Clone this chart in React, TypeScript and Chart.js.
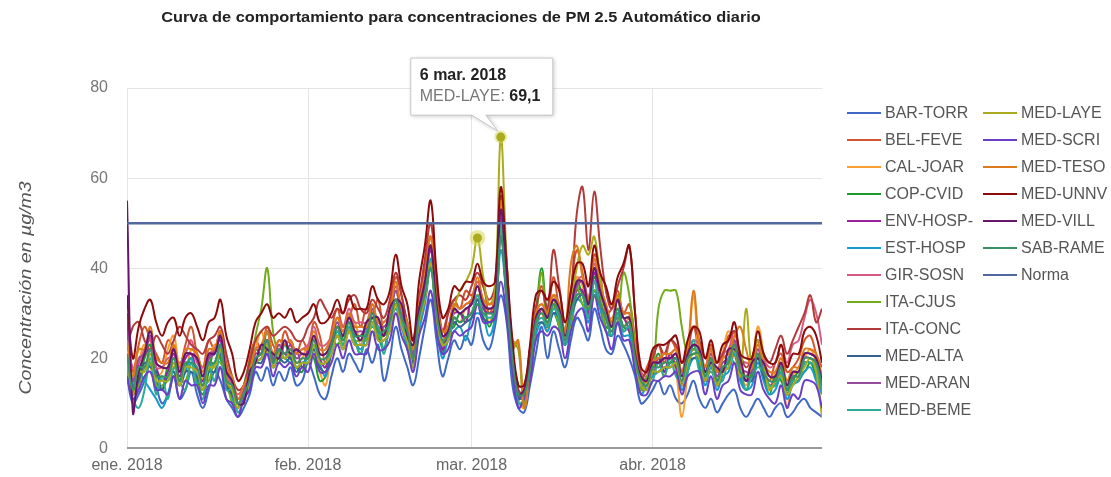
import React, { useEffect, useRef } from "react";
import { Chart, registerables } from "chart.js";
Chart.register(...registerables);

const TITLE = "Curva de comportamiento para concentraciones de PM 2.5 Automático diario";
const Y_TITLE = "Concentración en µg/m3";
const MONTH_TICK_DAYS = [0, 31, 59, 90];
const MONTH_TICK_LABELS = ["ene. 2018", "feb. 2018", "mar. 2018", "abr. 2018"];
const Y_TICKS = [0, 20, 40, 60, 80];
const NORMA = 50;
const TOOLTIP_DAY = 64;
const TOOLTIP_DATE = "6 mar. 2018";
const TOOLTIP_SERIES = "MED-LAYE";
const HALO_DAY = 60;

const STATIONS = [
  "BAR-TORR", "BEL-FEVE", "CAL-JOAR", "COP-CVID", "ENV-HOSP-", "EST-HOSP",
  "GIR-SOSN", "ITA-CJUS", "ITA-CONC", "MED-ALTA", "MED-ARAN", "MED-BEME",
  "MED-LAYE", "MED-SCRI", "MED-TESO", "MED-UNNV", "MED-VILL", "SAB-RAME",
];
const COLORS = [
  "#3f69c4", "#d2552f", "#f9a030", "#1f9a30", "#9a239d", "#1a9cc8",
  "#d85a82", "#72ab1c", "#b33a3a", "#36608e", "#964a9c", "#2eaa98",
  "#abab1e", "#6a3fc6", "#dc7a1c", "#8b0b0b", "#66176a", "#3b9066",
];
const NORMA_COLOR = "#51699e";

const BAR_TORR = [
  16,10,12,15,19,14,10,12,16,11, 13,17,12,9,13,17,15,11,9,7,
  9,12,17,15,18,14,17,15,18,14, 15,19,16,12,11,16,20,17,21,19,
  17,22,19,23,15,20,27,22,18,14, 20,27,33,24,16,20,24,22,25,23,
  29,24,22,27,34,28,14,9,8,14, 21,27,20,26,22,18,24,29,27,24,
  31,27,22,21,25,23,20,16,10,11, 13,15,12,14,11,10,12,15,11,9,
  11,8,10,12,13,9,7,9,11,9, 7,9,10,7,8,10,11,9,8,7,
];
const BEL_FEVE = [
  28,17,23,27,24,21,19,24,22,18, 23,27,21,18,24,22,26,19,14,11,
  13,20,24,22,27,23,21,26,23,21, 24,22,28,25,19,26,31,27,29,32,
  27,31,30,33,26,31,38,34,27,21, 33,40,47,34,23,30,33,31,35,34,
  37,36,30,34,56,41,20,13,12,22, 31,36,29,38,31,26,35,44,39,33,
  43,39,30,31,35,30,32,24,15,18, 21,23,19,24,22,17,23,27,21,18,
  23,17,20,25,24,19,16,20,24,18, 15,19,21,17,18,20,24,25,21,18,
];
const CAL_JOAR = [
  21,14,19,23,18,16,17,22,25,18, 17,22,21,15,19,23,21,16,12,9,
  12,17,22,26,21,19,23,20,22,19, 20,23,21,17,14,22,27,24,26,28,
  23,28,27,29,22,28,35,29,24,20, 30,36,42,30,21,27,29,28,31,30,
  34,33,28,33,51,37,22,11,9,18, 28,30,26,34,28,24,30,38,36,31,
  39,34,28,29,30,27,29,20,12,15, 18,20,16,21,17,7,18,34,20,16,
  20,14,21,26,21,17,14,18,27,21, 13,17,18,9,16,18,20,22,19,12,
];
const COP_CVID = [
  19,12,16,20,23,15,13,18,17,14, 18,20,15,12,17,22,20,14,11,9,
  14,19,22,21,26,20,19,23,20,18, 17,21,20,15,16,24,23,25,27,24,
  21,26,29,25,22,29,33,28,23,19, 29,35,41,30,21,26,27,30,29,30,
  33,32,27,32,49,34,19,11,13,22, 30,40,30,32,27,23,29,37,34,30,
  38,33,27,27,31,27,26,19,13,16, 18,21,17,19,20,14,17,23,18,15,
  19,14,17,20,21,16,13,17,20,16, 12,16,15,12,15,17,17,19,16,13,
];
const ENV_HOSP = [
  30,13,19,21,22,18,15,17,21,16, 20,21,17,15,20,22,24,16,12,10,
  11,17,20,21,24,19,22,21,20,22, 18,22,24,20,18,24,27,26,28,25,
  25,27,28,26,25,30,32,30,26,20, 29,37,44,33,22,26,30,30,28,33,
  33,31,30,31,51,37,18,12,11,19, 26,31,28,31,30,24,30,35,35,30,
  39,33,29,28,29,29,26,20,13,16, 16,20,17,21,18,15,20,22,21,16,
  20,15,18,19,23,17,15,16,21,17, 14,15,18,13,16,16,20,20,19,14,
];
const EST_HOSP = [
  21,14,17,15,13,11,9,12,16,14, 17,20,16,14,18,19,23,15,11,10,
  11,14,19,20,23,18,21,20,19,18, 19,20,23,19,16,22,25,23,26,24,
  22,25,27,26,22,27,31,27,22,18, 26,32,40,28,20,24,26,27,24,29,
  30,29,25,29,44,33,17,10,10,17, 25,28,26,30,27,23,27,33,32,28,
  35,31,26,25,28,25,25,19,12,14, 16,17,18,18,19,13,17,20,19,14,
  18,13,16,17,21,15,13,14,19,15, 12,13,16,11,14,15,17,18,15,12,
];
const GIR_SOSN = [
  24,18,19,22,24,18,18,20,20,19, 21,24,19,18,21,22,26,17,14,12,
  14,17,22,23,26,21,24,23,24,21, 22,23,27,23,23,25,29,27,31,28,
  28,28,32,28,28,30,36,31,28,22, 32,37,45,32,26,27,32,31,32,33,
  37,33,32,33,53,38,22,14,14,20, 30,32,30,34,32,26,32,37,38,33,
  41,36,32,28,34,30,30,22,17,16, 20,20,21,21,22,17,22,24,23,18,
  22,17,21,22,26,20,19,19,24,20, 18,19,23,19,23,24,29,33,30,23,
];
const ITA_CJUS = [
  17,12,14,18,19,14,14,15,16,15, 15,19,14,14,15,19,19,16,10,9,
  13,17,25,31,40,26,21,20,21,18, 19,19,23,19,19,21,26,23,27,24,
  24,24,29,25,25,27,33,28,25,19, 29,34,42,29,23,24,29,28,29,30,
  34,29,28,29,49,33,24,22,10,18, 28,39,27,33,27,25,27,36,32,31,
  35,34,26,26,28,39,34,23,13,16, 17,31,35,35,35,27,21,22,21,16,
  20,15,18,19,23,17,16,16,21,17, 14,14,17,12,15,15,19,19,18,13,
];
const ITA_CONC = [
  22,27,28,24,22,25,23,21,24,27, 25,23,22,21,24,25,27,21,16,13,
  14,19,24,26,27,25,26,27,26,24, 24,27,29,33,31,29,31,30,33,34,
  31,30,33,31,29,33,39,34,28,24, 33,42,50,37,26,30,33,34,33,36,
  39,36,33,36,56,41,22,13,12,22, 31,35,31,44,36,28,34,52,58,44,
  57,45,35,31,36,40,45,30,16,17, 20,23,21,24,23,19,22,27,24,20,
  22,19,21,24,26,21,18,20,24,21, 19,22,25,21,24,27,30,34,28,31,
];
const MED_ALTA = [
  19,13,15,19,18,17,13,16,17,14, 17,17,16,13,17,17,21,14,12,10,
  12,14,19,19,22,18,20,19,20,17, 19,19,22,18,17,21,25,22,26,23,
  23,23,28,24,24,26,32,27,24,19, 28,33,41,29,23,24,28,27,28,29,
  33,29,28,29,47,33,19,11,12,17, 27,28,27,30,29,23,29,33,34,29,
  37,32,29,25,30,26,27,19,14,13, 17,17,18,18,19,14,19,20,20,15,
  19,14,17,18,22,16,15,15,20,16, 14,14,17,12,15,15,19,19,18,13,
];
const MED_ARAN = [
  26,15,20,21,25,19,18,18,22,17, 21,21,20,16,20,21,25,17,15,11,
  13,16,21,21,24,20,23,21,23,20, 21,21,25,21,21,24,28,25,29,26,
  26,26,31,27,27,29,35,30,27,21, 31,36,45,32,25,26,31,30,31,32,
  36,32,31,32,53,37,21,12,13,19, 29,31,29,33,31,25,31,36,37,32,
  40,35,31,27,33,29,29,21,16,15, 19,19,20,20,21,16,21,23,22,17,
  21,16,19,20,24,18,17,17,22,18, 16,16,19,14,17,17,21,21,20,15,
];
const MED_BEME = [
  18,11,9,13,20,12,16,11,18,15, 13,19,14,11,18,15,22,13,13,8,
  11,14,19,20,23,18,21,20,21,18, 19,19,23,19,19,22,26,23,27,24,
  21,26,27,27,21,28,31,29,22,20, 28,34,42,29,23,24,29,28,29,30,
  34,30,29,30,50,34,19,10,11,17, 27,29,27,31,29,23,29,34,34,29,
  37,32,29,25,30,26,27,19,14,13, 15,19,16,20,16,15,17,24,17,16,
  17,15,15,20,19,17,13,16,18,17, 14,14,17,12,15,15,19,19,18,13,
];
const MED_LAYE = [
  20,12,17,17,21,15,15,15,19,14, 18,18,17,13,18,18,22,15,13,9,
  12,14,19,20,23,18,21,20,21,18, 19,19,23,19,19,21,25,22,26,23,
  23,23,28,24,24,26,32,27,24,18, 28,33,41,29,23,24,31,35,37,40,
  46.7,38,32,35,69.1,42,24,23,9,18, 28,31,28,32,31,25,32,40,45,43,
  47,38,31,27,33,29,29,20,14,13, 17,17,18,18,19,14,19,21,20,15,
  19,14,17,18,22,16,31,18,24,19, 13,15,16,12,14,16,18,20,17,7,
];
const MED_SCRI = [
  16,11,13,16,17,13,13,12,16,11, 15,14,14,10,14,14,18,11,10,7,
  11,13,18,18,21,16,19,18,19,16, 18,17,21,17,17,19,23,20,24,21,
  21,21,26,22,22,24,30,25,22,17, 25,29,35,26,21,22,26,25,26,27,
  32,28,28,29,37,29,17,9,11,15, 24,26,25,27,26,20,26,30,31,26,
  34,29,26,22,28,24,24,17,12,12, 15,15,16,16,17,12,16,17,17,12,
  16,11,14,15,19,13,12,12,17,13, 11,10,14,9,12,11,15,15,14,9,
];
const MED_TESO = [
  24,16,22,22,27,20,19,19,23,18, 22,22,21,17,22,22,26,18,16,11,
  14,17,22,23,26,21,24,23,24,21, 22,22,26,22,22,25,29,26,30,27,
  27,27,32,28,28,30,37,31,28,22, 32,38,47,33,26,27,32,31,32,33,
  38,33,32,33,55,38,22,24,9,19, 30,32,30,34,32,26,41,45,38,33,
  42,36,32,28,34,30,30,22,16,15, 19,20,21,21,22,17,22,35,23,18,
  22,17,20,21,25,27,22,18,23,19, 17,17,20,15,18,18,22,22,21,16,
];
const MED_UNNV = [
  34,20,27,31,33,28,25,28,29,25, 29,30,27,24,28,29,33,25,21,15,
  17,22,28,30,32,29,30,29,31,28, 29,30,32,28,28,30,33,30,34,31,
  31,31,36,33,32,35,43,36,32,24, 37,45,55,39,29,31,36,35,37,37,
  41,37,36,37,58,41,24,14,14,23, 34,35,33,37,35,28,35,41,41,36,
  45,39,36,32,38,41,45,30,18,17, 22,23,23,24,25,19,24,27,26,20,
  24,19,23,24,28,21,20,20,26,21, 19,19,23,18,21,21,26,27,25,19,
];
const MED_VILL = [
  55,8,17,21,26,19,18,18,22,17, 21,21,20,16,21,21,25,17,15,10,
  10,17,19,23,22,21,20,24,21,22, 21,21,25,21,21,23,27,25,29,26,
  24,28,29,29,25,31,33,32,25,23, 31,37,45,32,25,26,31,30,31,32,
  36,32,31,32,53,37,21,12,13,19, 29,31,29,33,31,25,31,37,37,32,
  40,35,31,27,33,29,29,21,16,15, 19,19,20,20,21,16,21,23,22,17,
  19,18,17,22,22,20,15,19,20,19, 16,16,19,14,17,17,21,21,20,15,
];
const SAB_RAME = [
  21,13,18,18,22,16,16,16,20,15, 19,19,18,14,19,19,23,15,14,10,
  12,15,20,21,24,19,22,21,22,19, 20,20,24,20,20,23,27,24,28,25,
  25,25,30,26,26,28,33,29,26,20, 29,34,40,30,24,25,29,28,29,30,
  32,30,30,30,47,34,20,12,12,18, 28,30,28,32,30,24,30,34,34,31,
  34,32,29,26,31,27,28,20,15,14, 18,18,19,19,20,15,20,21,21,16,
  20,15,18,19,23,17,16,16,21,17, 15,15,18,13,16,16,20,20,19,14,
];

const SERIES = [
  BAR_TORR, BEL_FEVE, CAL_JOAR, COP_CVID, ENV_HOSP, EST_HOSP,
  GIR_SOSN, ITA_CJUS, ITA_CONC, MED_ALTA, MED_ARAN, MED_BEME,
  MED_LAYE, MED_SCRI, MED_TESO, MED_UNNV, MED_VILL, SAB_RAME,
];

const FONT = "'Liberation Sans', Arial, sans-serif";

const overlayPlugin = {
  id: "overlay",
  afterDatasetsDraw(chart: any) {
    const ctx = chart.ctx;
    const xs = chart.scales.x;
    const ys = chart.scales.y;
    const li = STATIONS.indexOf(TOOLTIP_SERIES);
    const col = COLORS[li];
    const hx = xs.getPixelForValue(HALO_DAY);
    const hy = ys.getPixelForValue(MED_LAYE[HALO_DAY]);
    ctx.save();
    ctx.beginPath();
    ctx.arc(hx, hy, 8, 0, Math.PI * 2);
    ctx.fillStyle = "rgba(215,215,90,0.55)";
    ctx.fill();
    ctx.beginPath();
    ctx.arc(hx, hy, 4.5, 0, Math.PI * 2);
    ctx.fillStyle = col;
    ctx.fill();
    const px = xs.getPixelForValue(TOOLTIP_DAY);
    const py = ys.getPixelForValue(MED_LAYE[TOOLTIP_DAY]);
    ctx.beginPath();
    ctx.arc(px, py, 6.5, 0, Math.PI * 2);
    ctx.fillStyle = "rgba(215,215,90,0.5)";
    ctx.fill();
    ctx.beginPath();
    ctx.arc(px, py, 4.5, 0, Math.PI * 2);
    ctx.fillStyle = col;
    ctx.fill();
    ctx.restore();
  },
  afterDraw(chart: any) {
    const ctx = chart.ctx;
    const xs = chart.scales.x;
    const ys = chart.scales.y;
    ctx.save();
    ctx.font = `bold 15px ${FONT}`;
    ctx.fillStyle = "#222";
    ctx.textAlign = "center";
    ctx.textBaseline = "middle";
    ctx.save();
    ctx.translate(461, 18);
    ctx.scale(1.09, 1);
    ctx.fillText(TITLE, 0, 0);
    ctx.restore();
    ctx.save();
    ctx.translate(27, 288);
    ctx.rotate(-Math.PI / 2);
    ctx.scale(1.22, 1);
    ctx.font = `italic 16px ${FONT}`;
    ctx.fillStyle = "#555";
    ctx.fillText(Y_TITLE, 0, 0);
    ctx.restore();
    ctx.font = `16px ${FONT}`;
    ctx.textAlign = "left";
    const names = [...STATIONS, "Norma"];
    const cols = [...COLORS, NORMA_COLOR];
    names.forEach((n, i) => {
      const c = i < 12 ? 0 : 1;
      const r = i < 12 ? i : i - 12;
      const lx = c === 0 ? 847 : 983;
      const y = 113 + r * 27;
      ctx.strokeStyle = cols[i];
      ctx.lineWidth = 2;
      ctx.beginPath();
      ctx.moveTo(lx, y);
      ctx.lineTo(lx + 34, y);
      ctx.stroke();
      ctx.fillStyle = "#555";
      ctx.fillText(n, lx + 38, y + 1);
    });
    const px = xs.getPixelForValue(TOOLTIP_DAY);
    const py = ys.getPixelForValue(MED_LAYE[TOOLTIP_DAY]);
    const L = px - 90, R = px + 52, T = py - 79, B = py - 22;
    ctx.save();
    ctx.shadowColor = "rgba(0,0,0,0.25)";
    ctx.shadowBlur = 4;
    ctx.shadowOffsetX = 1;
    ctx.shadowOffsetY = 1;
    ctx.beginPath();
    ctx.moveTo(L, T);
    ctx.lineTo(R, T);
    ctx.lineTo(R, B);
    ctx.lineTo(px - 15, B);
    ctx.lineTo(px - 3, py - 6);
    ctx.lineTo(px - 29, B);
    ctx.lineTo(L, B);
    ctx.closePath();
    ctx.fillStyle = "#fff";
    ctx.fill();
    ctx.restore();
    ctx.strokeStyle = "#c8c8c8";
    ctx.lineWidth = 1;
    ctx.stroke();
    ctx.textBaseline = "middle";
    ctx.font = `bold 16px ${FONT}`;
    ctx.fillStyle = "#222";
    ctx.fillText(TOOLTIP_DATE, L + 9, T + 17);
    ctx.font = `16px ${FONT}`;
    ctx.fillStyle = "#777";
    const lab = TOOLTIP_SERIES + ": ";
    ctx.fillText(lab, L + 9, T + 38);
    const w = ctx.measureText(lab).width;
    ctx.font = `bold 16px ${FONT}`;
    ctx.fillStyle = "#222";
    ctx.fillText(String(MED_LAYE[TOOLTIP_DAY]).replace(".", ","), L + 9 + w, T + 38);
    ctx.restore();
  },
};

export default function App() {
  const ref = useRef<HTMLCanvasElement | null>(null);
  useEffect(() => {
    if (!ref.current) return;
    const datasets: any[] = SERIES.map((s, i) => ({
      label: STATIONS[i],
      data: s.map((v, d) => ({ x: d, y: v })),
      borderColor: COLORS[i],
      backgroundColor: COLORS[i],
      borderWidth: 2,
      pointRadius: 0,
      tension: 0.4,
      fill: false,
      order: SERIES.length + 1 - i,
    }));
    datasets.push({
      label: "Norma",
      data: [
        { x: 0, y: NORMA },
        { x: SERIES[0].length - 1, y: NORMA },
      ],
      borderColor: NORMA_COLOR,
      borderWidth: 2.5,
      pointRadius: 0,
      fill: false,
      order: 0,
    });
    const chart = new Chart(ref.current, {
      type: "line",
      data: { datasets },
      options: {
        animation: false,
        responsive: false,
        maintainAspectRatio: false,
        layout: { padding: { left: 0, top: 88, right: 289, bottom: 0 } },
        plugins: { legend: { display: false }, tooltip: { enabled: false }, title: { display: false } },
        events: [],
        scales: {
          x: {
            type: "linear",
            min: 0,
            max: SERIES[0].length - 1,
            afterBuildTicks: (s: any) => {
              s.ticks = MONTH_TICK_DAYS.map((v) => ({ value: v }));
            },
            afterFit: (s: any) => {
              s.height = 27;
            },
            ticks: {
              autoSkip: false,
              maxRotation: 0,
              padding: 8,
              color: "#666",
              font: { family: FONT, size: 16 },
              callback: (v: any) => MONTH_TICK_LABELS[MONTH_TICK_DAYS.indexOf(Number(v))] ?? "",
            },
            grid: { color: "#e4e4e4", lineWidth: 1, drawTicks: false, tickLength: 0 },
            border: { display: false },
          },
          y: {
            min: 0,
            max: 80,
            afterBuildTicks: (s: any) => {
              s.ticks = Y_TICKS.map((v) => ({ value: v }));
            },
            afterFit: (s: any) => {
              s.width = 127;
            },
            ticks: {
              padding: 19,
              color: "#777",
              font: { family: FONT, size: 16 },
            },
            grid: {
              color: (c: any) => (c.tick && c.tick.value === 0 ? "#9a9a9a" : "#e4e4e4"),
              lineWidth: (c: any) => (c.tick && c.tick.value === 0 ? 2 : 1),
              drawTicks: false,
              tickLength: 0,
            },
            border: { display: false },
          },
        },
      },
      plugins: [overlayPlugin],
    });
    return () => chart.destroy();
  }, []);
  return (
    <div style={{ position: "absolute", left: 0, top: 0, width: 1111, height: 477, background: "#fff" }}>
      <canvas ref={ref} width={1111} height={477} style={{ width: 1111, height: 477 }} />
    </div>
  );
}
